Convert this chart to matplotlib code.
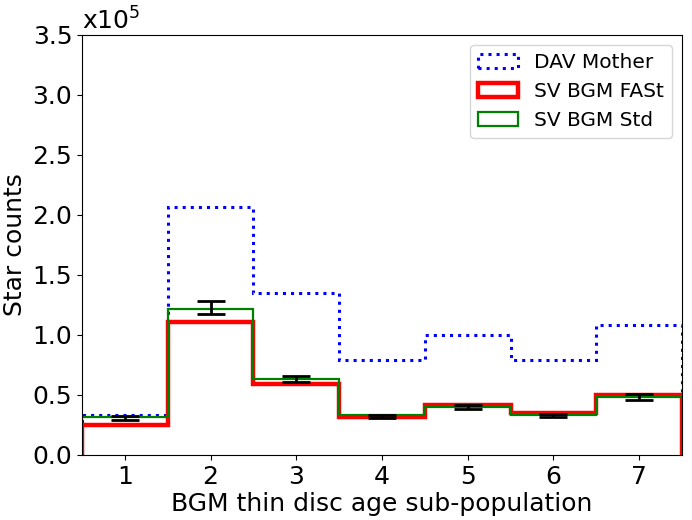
import matplotlib.pyplot as plt
import numpy as np

# Star counts per BGM thin disc age sub-population (units of 1e5)
pops = [1, 2, 3, 4, 5, 6, 7]
dav_mother = [0.33, 2.07, 1.35, 0.79, 1.00, 0.79, 1.08]
sv_fast = [0.25, 1.11, 0.59, 0.32, 0.42, 0.35, 0.50]
sv_std = [0.32, 1.22, 0.63, 0.33, 0.40, 0.33, 0.48]
err_val = [0.31, 1.23, 0.63, 0.32, 0.40, 0.33, 0.48]
err_sig = [0.015, 0.055, 0.025, 0.012, 0.018, 0.015, 0.025]

bins = np.arange(0.5, 8.5, 1.0)

fig = plt.figure(figsize=(6.92, 5.2), dpi=100)
ax = fig.add_axes([82/692, 65/520, 600/692, 420/520])

ax.hist(pops, bins=bins, weights=dav_mother, histtype='step', color='blue',
        linestyle=':', linewidth=2.2, label='DAV Mother')
ax.hist(pops, bins=bins, weights=sv_fast, histtype='step', color='red',
        linewidth=3.2, label='SV BGM FASt')
ax.hist(pops, bins=bins, weights=sv_std, histtype='step', color='green',
        linewidth=1.6, label='SV BGM Std')
ax.errorbar(pops, err_val, yerr=err_sig, fmt='none', ecolor='black',
            elinewidth=2, capsize=10, capthick=2)

ax.set_xlim(0.5, 7.5)
ax.set_ylim(0, 3.5)
ax.set_xticks(pops)
ax.set_yticks(np.arange(0, 3.6, 0.5))
ax.set_yticklabels(['%.1f' % v for v in np.arange(0, 3.6, 0.5)])
ax.tick_params(labelsize=18)
ax.set_xlabel('BGM thin disc age sub-population', fontsize=18, labelpad=2)
ax.set_ylabel('Star counts', fontsize=18)
ax.text(0.0, 1.0, r'x10$^5$', transform=ax.transAxes, fontsize=18,
        va='bottom', ha='left')
ax.legend(loc='upper right', fontsize=14.5)

plt.savefig('out.png')
